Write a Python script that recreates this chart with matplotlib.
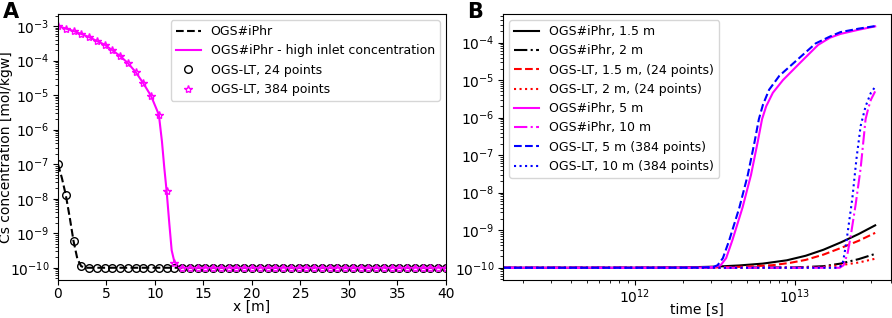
import numpy as np
from matplotlib import pyplot as plt

#------------------------------------------------------------------------
# panel A data: concentration profile along x

x_points = np.arange(0, 40.01, 0.8)

lt24_conc = [1e-7, 1.3e-8, 6e-10, 1.1e-10] + [1e-10] * 47
lt384_conc = [1e-3, 8.5e-4, 7.2e-4, 5.9e-4, 4.8e-4, 3.7e-4, 2.9e-4, 2.0e-4,
              1.36e-4, 8.5e-5, 4.7e-5, 2.2e-5, 9.4e-6, 2.7e-6, 1.65e-8,
              1.4e-10] + [1e-10] * 35

iphr_x = [0, 0.4, 0.8, 1.2, 1.6, 2.0, 2.4, 3.0, 40]
iphr_conc = [1e-7, 4e-8, 1.3e-8, 3e-9, 6e-10, 1.8e-10, 1.1e-10, 1e-10, 1e-10]

iphr_high_x = [0, 0.8, 1.6, 2.4, 3.2, 4.0, 4.8, 5.6, 6.4, 7.2, 8.0, 8.8, 9.6,
               10.4, 10.72, 10.96, 11.2, 11.48, 11.72, 12.0, 12.5, 13.0, 40]
iphr_high_conc = [1e-3, 8.5e-4, 7.2e-4, 5.9e-4, 4.8e-4, 3.7e-4, 2.9e-4, 2.0e-4,
                  1.36e-4, 8.5e-5, 4.7e-5, 2.2e-5, 9.4e-6, 2.7e-6, 4.5e-7,
                  7.8e-8, 1.66e-8, 1.86e-9, 3.2e-10, 1.48e-10, 1.02e-10,
                  1e-10, 1e-10]

#------------------------------------------------------------------------
# panel B data: breakthrough curves over time

t_iphr_15 = [1.5e11, 1e12, 2e12, 3.16e12, 4.47e12, 6.31e12, 8.91e12, 1.17e13,
             1.51e13, 1.95e13, 2.51e13, 3.18e13]
c_iphr_15 = [1e-10, 1e-10, 1.02e-10, 1.07e-10, 1.15e-10, 1.29e-10, 1.58e-10,
             2.09e-10, 3.02e-10, 4.79e-10, 7.94e-10, 1.35e-9]

t_iphr_2 = [1.5e11, 1e13, 1.51e13, 1.93e13, 2.51e13, 3.18e13]
c_iphr_2 = [1e-10, 1.02e-10, 1.1e-10, 1.29e-10, 1.7e-10, 2.34e-10]

t_lt_15 = [1.5e11, 1e12, 3.16e12, 5.01e12, 7.24e12, 9.33e12, 1.17e13, 1.51e13,
           1.95e13, 2.51e13, 3.18e13]
c_lt_15 = [1e-10, 1e-10, 1.02e-10, 1.07e-10, 1.17e-10, 1.35e-10, 1.62e-10,
           2.24e-10, 3.39e-10, 5.25e-10, 8.5e-10]

t_lt_2 = [1.5e11, 1e13, 1.51e13, 1.93e13, 2.51e13, 3.18e13]
c_lt_2 = [1e-10, 1e-10, 1.05e-10, 1.17e-10, 1.38e-10, 1.74e-10]

t_iphr_5 = [1.5e11, 1e12, 2.5e12, 3.16e12, 3.44e12, 3.72e12, 4.07e12, 4.71e12,
            5.32e12, 5.86e12, 6.24e12, 6.62e12, 7.29e12, 8.43e12, 1.08e13,
            1.40e13, 1.66e13, 1.93e13, 2.51e13, 3.18e13]
c_iphr_5 = [1e-10, 1e-10, 1.01e-10, 1.05e-10, 1.17e-10, 1.8e-10, 5.4e-10,
            4.0e-9, 2.95e-8, 2.24e-7, 9.1e-7, 2.0e-6, 4.6e-6, 1.0e-5, 2.9e-5,
            8.7e-5, 1.35e-4, 1.7e-4, 2.2e-4, 2.7e-4]

t_iphr_10 = [1.5e11, 1e13, 1.91e13, 2.02e13, 2.14e13, 2.23e13, 2.40e13,
             2.58e13, 2.68e13, 2.77e13, 2.88e13, 2.99e13, 3.18e13]
c_iphr_10 = [1e-10, 1e-10, 1e-10, 1.17e-10, 2.5e-10, 6.5e-10, 4.8e-9, 4.5e-8,
             2.24e-7, 9.1e-7, 1.78e-6, 3.0e-6, 5.0e-6]

t_lt_5 = [1.5e11, 1e12, 2.5e12, 3.1e12, 3.29e12, 3.55e12, 3.89e12, 4.5e12,
          5.08e12, 5.6e12, 5.96e12, 6.32e12, 6.9e12, 8.0e12, 1.03e13, 1.35e13,
          1.66e13, 1.93e13, 2.51e13, 3.18e13]
c_lt_5 = [1e-10, 1e-10, 1.01e-10, 1.05e-10, 1.17e-10, 1.8e-10, 5.4e-10, 4.0e-9,
          2.95e-8, 2.24e-7, 9.1e-7, 2.2e-6, 5.5e-6, 1.3e-5, 3.4e-5, 9.5e-5,
          1.45e-4, 1.9e-4, 2.35e-4, 2.75e-4]

t_lt_10 = [1.5e11, 1e13, 1.86e13, 1.98e13, 2.04e13, 2.12e13, 2.29e13, 2.43e13,
           2.58e13, 2.77e13, 2.99e13, 3.18e13]
c_lt_10 = [1e-10, 1e-10, 1e-10, 1.17e-10, 2.24e-10, 6.5e-10, 7.2e-9, 8.1e-8,
           6.0e-7, 2.0e-6, 4.6e-6, 6.6e-6]

#------------------------------------------------------------------------

plt.rcParams['font.size'] = 10
plt.rcParams['legend.fontsize'] = 9
plt.rcParams['xtick.major.pad'] = 2
plt.rcParams['ytick.major.pad'] = 2.5

fig = plt.figure(figsize=(8.92, 3.18), dpi=100)

#A
ax1 = fig.add_axes([0.065, 0.12, 0.435, 0.836])

ax1.plot(iphr_x, iphr_conc, 'k--', label='OGS#iPhr')
ax1.plot(iphr_high_x, iphr_high_conc, color='magenta',
         label='OGS#iPhr - high inlet concentration')
ax1.plot(x_points, lt24_conc, 'o', color='black', fillstyle='none', ms=5.5,
         label='OGS-LT, 24 points')
ax1.plot(x_points, lt384_conc, '*', color='magenta', fillstyle='none', ms=6,
         label='OGS-LT, 384 points')

ax1.set_yscale('log')
ax1.set_xlim(0, 40)
ax1.set_xlabel('x [m]', labelpad=-1)
ax1.set_ylabel('Cs concentration [mol/kgw]')
ax1.yaxis.set_label_coords(-0.115, 0.5)
ax1.legend(loc='upper right')

fig.text(0.003, 0.995, 'A', fontsize=15, fontweight='bold', va='top')

#------------------------------------------------------------------------

#B
ax2 = fig.add_axes([0.564, 0.12, 0.435, 0.836])

ax2.plot(t_iphr_15, c_iphr_15, color='black', linestyle='-', label='OGS#iPhr, 1.5 m')
ax2.plot(t_iphr_2, c_iphr_2, color='black', linestyle='-.', label='OGS#iPhr, 2 m')
ax2.plot(t_lt_15, c_lt_15, color='red', linestyle='--', label='OGS-LT, 1.5 m, (24 points)')
ax2.plot(t_lt_2, c_lt_2, color='red', linestyle=':', label='OGS-LT, 2 m, (24 points)')
ax2.plot(t_iphr_5, c_iphr_5, color='magenta', linestyle='-', label='OGS#iPhr, 5 m')
ax2.plot(t_iphr_10, c_iphr_10, color='magenta', linestyle='-.', label='OGS#iPhr, 10 m')
ax2.plot(t_lt_5, c_lt_5, color='blue', linestyle='--', label='OGS-LT, 5 m (384 points)')
ax2.plot(t_lt_10, c_lt_10, color='blue', linestyle=':', label='OGS-LT, 10 m (384 points)')

ax2.set_xscale('log')
ax2.set_yscale('log')
ax2.set_xlim(1.5e11, 4.0e13)
ax2.set_xlabel('time [s]', labelpad=-2)
ax2.legend(loc='upper left')

fig.text(0.524, 0.995, 'B', fontsize=15, fontweight='bold', va='top')

plt.savefig('out.png')
